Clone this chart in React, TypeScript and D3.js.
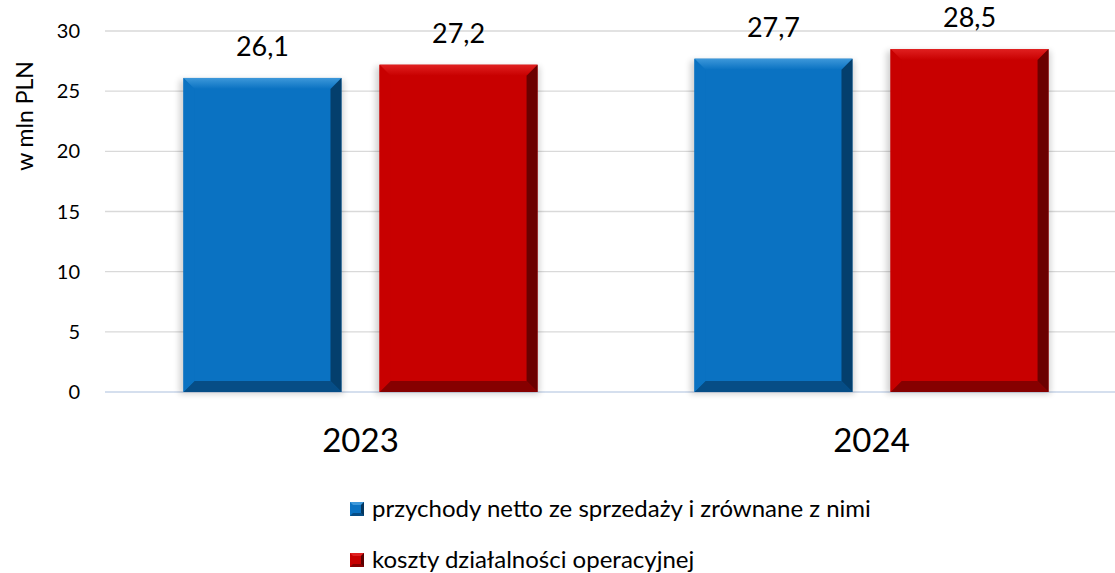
import React from "react";
import * as d3 from "d3";

const categories = ["2023", "2024"];
const seriesNames = [
  "przychody netto ze sprzedaży i zrównane z nimi",
  "koszty działalności operacyjnej",
];
const revenue = [26.1, 27.7];
const costs = [27.2, 28.5];
const yTicks = [0, 5, 10, 15, 20, 25, 30];
const colors = ["#0A72C2", "#C80000"];
const darkColors = ["#04365E", "#5A0000"];
const lightColors = ["#3D98DA", "#E02020"];

const W = 1115;
const H = 573;
const FONT = "Lato, 'Open Sans', sans-serif";

export default function App() {
  const x0 = d3.scaleBand().domain(categories).range([105, 1127]).paddingInner(0).paddingOuter(0);
  const x1 = d3.scaleBand().domain(["0", "1"]).range([0, x0.bandwidth()]).paddingInner(0.194).paddingOuter(0.4);
  const y = d3.scaleLinear().domain([0, 30]).range([392, 31]);
  const series = [revenue, costs];
  const bev = 11;

  const bars: any[] = [];
  categories.forEach((c, ci) => {
    series.forEach((s, si) => {
      const bx = (x0(c) as number) + (x1(String(si)) as number);
      const bw = x1.bandwidth();
      const by = y(s[ci]);
      const bh = y(0) - by;
      bars.push({ bx, bw, by, bh, si, v: s[ci], key: c + si });
    });
  });

  return (
    <svg width={W} height={H} style={{ position: "absolute", left: 0, top: 0 }} fontFamily={FONT}>
      <defs>
        <filter id="sh" x="-10%" y="-10%" width="120%" height="120%">
          <feGaussianBlur stdDeviation="3" />
        </filter>
        {colors.map((c, i) => (
          <linearGradient key={i} id={`top${i}`} x1="0" y1="0" x2="0" y2="1">
            <stop offset="0" stopColor={lightColors[i]} />
            <stop offset="1" stopColor={colors[i]} />
          </linearGradient>
        ))}
      </defs>
      <rect width={W} height={H} fill="#fff" />
      {yTicks.map((t) => (
        <g key={t}>
          <line x1={105} x2={W} y1={y(t)} y2={y(t)} stroke={t === 0 ? "#D5DFEE" : "#D9D9D9"} strokeWidth={t === 0 ? 2 : 1.3} />
          <text x={80} y={y(t)} dy="0.35em" textAnchor="end" fontSize={20} fill="#000">{t}</text>
        </g>
      ))}
      <text transform={`translate(33,116) rotate(-90)`} textAnchor="middle" fontSize={23} fill="#000">w mln PLN</text>
      {bars.map((b) => {
        const { bx, bw, by, bh, si } = b;
        const r = bx + bw;
        const bt = by + bh;
        return (
          <g key={b.key}>
            <rect x={bx - 4} y={by + 2} width={bw + 6} height={bh} fill="#000" opacity={0.18} filter="url(#sh)" />
            <rect x={bx} y={by} width={bw} height={bh} fill={colors[si]} />
            <polygon points={`${bx},${by} ${r},${by} ${r - bev},${by + bev} ${bx + bev},${by + bev}`} fill={`url(#top${si})`} />
            <polygon points={`${r},${by} ${r},${bt} ${r - bev},${bt - bev} ${r - bev},${by + bev}`} fill={darkColors[si]} opacity={0.85} />
            <polygon points={`${bx},${bt} ${r},${bt} ${r - bev},${bt - bev} ${bx + bev},${bt - bev}`} fill={darkColors[si]} opacity={0.6} />
            <polygon points={`${bx},${by} ${bx + bev},${by + bev} ${bx + bev},${bt - bev} ${bx},${bt}`} fill={colors[si]} />
            <text x={bx + bw / 2} y={by - 22} textAnchor="middle" fontSize={27} fill="#000">{String(b.v).replace(".", ",")}</text>
          </g>
        );
      })}
      {categories.map((c) => (
        <text key={c} x={(x0(c) as number) + x0.bandwidth() / 2} y={440} dy="0.35em" textAnchor="middle" fontSize={33} fill="#000">{c}</text>
      ))}
      {seriesNames.map((n, i) => (
        <g key={n} transform={`translate(357,${509 + i * 51})`}>
          <rect x={-7} y={-7} width={14} height={14} fill={colors[i]} />
          <polygon points="-7,-7 7,-7 4,-4 -4,-4" fill={lightColors[i]} />
          <polygon points="7,-7 7,7 4,4 4,-4" fill={darkColors[i]} />
          <polygon points="-7,7 7,7 4,4 -4,4" fill={darkColors[i]} opacity={0.6} />
          <text x={15} y={0} dy="0.35em" fontSize={24} fill="#000">{n}</text>
        </g>
      ))}
    </svg>
  );
}
